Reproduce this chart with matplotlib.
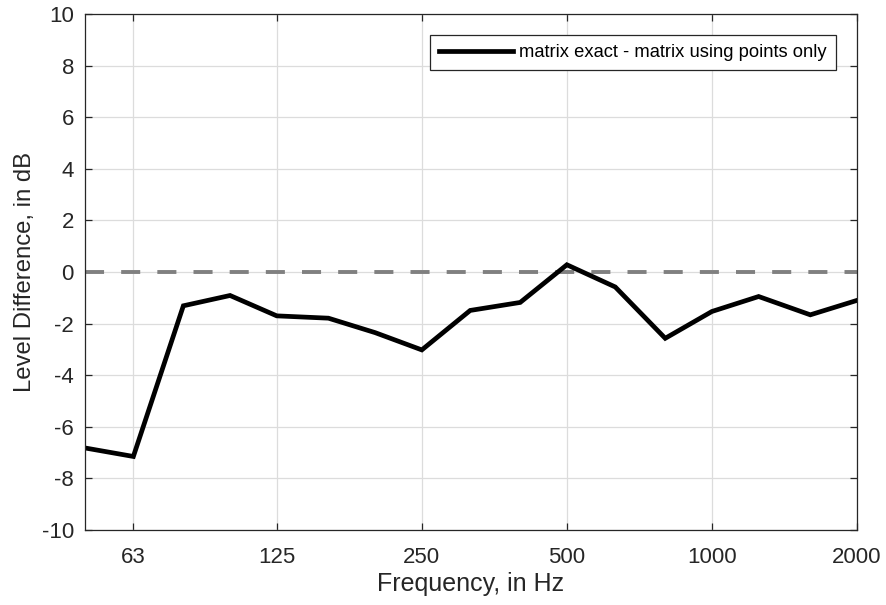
import numpy as np
import matplotlib.pyplot as plt

plt.rcParams['font.family'] = ['Liberation Sans', 'DejaVu Sans']
plt.rcParams['axes.unicode_minus'] = False

# third-octave band centre frequencies and level difference (dB)
freq = [50, 63, 80, 100, 125, 160, 200, 250, 315, 400, 500, 630, 800, 1000, 1250, 1600, 2000]
diff_db = [-6.82, -7.15, -1.31, -0.91, -1.70, -1.79, -2.35, -3.02, -1.49, -1.18, 0.28,
           -0.58, -2.57, -1.53, -0.95, -1.66, -1.10]
octave_ticks = [63, 125, 250, 500, 1000, 2000]
y_ticks = list(range(-10, 11, 2))

ink = '#262626'

fig = plt.figure(figsize=(8.87, 6.05), dpi=100)
ax = fig.add_axes([85 / 887, 1 - 530 / 605, 772 / 887, 516 / 605])

ax.plot(freq, diff_db, color='black', lw=3.4, solid_joinstyle='miter',
        label='matrix exact - matrix using points only')
ax.axhline(0, color='#808080', lw=2.8, dashes=(4.9, 4.4), zorder=1)

ax.set_xscale('log')
ax.set_xlim(50, 2000)
ax.set_ylim(-10, 10)
ax.set_xticks(octave_ticks)
ax.set_xticklabels([str(f) for f in octave_ticks])
ax.minorticks_off()
ax.set_yticks(y_ticks)

ax.grid(True, color='#dcdcdc', lw=0.9)
ax.set_axisbelow(True)
ax.tick_params(direction='in', length=5, width=0.9, top=True, right=True,
               labelsize=16, colors=ink)
ax.tick_params(axis='x', pad=12)
ax.tick_params(axis='y', pad=8)
for s in ax.spines.values():
    s.set_color(ink)
    s.set_linewidth(0.9)

ax.set_xlabel('Frequency, in Hz', fontsize=18, color=ink, labelpad=3)
ax.set_ylabel('Level Difference, in dB', fontsize=17.2, color=ink, labelpad=4)

leg = ax.legend(loc='upper right', bbox_to_anchor=(1 - 21 / 772, 1 - 21 / 516),
                fontsize=13.2, fancybox=False, framealpha=1, edgecolor=ink,
                handlelength=4.0, borderpad=0.5, handletextpad=0.35, borderaxespad=0)
leg.get_frame().set_linewidth(0.9)

fig.savefig('out.png', dpi=100)
